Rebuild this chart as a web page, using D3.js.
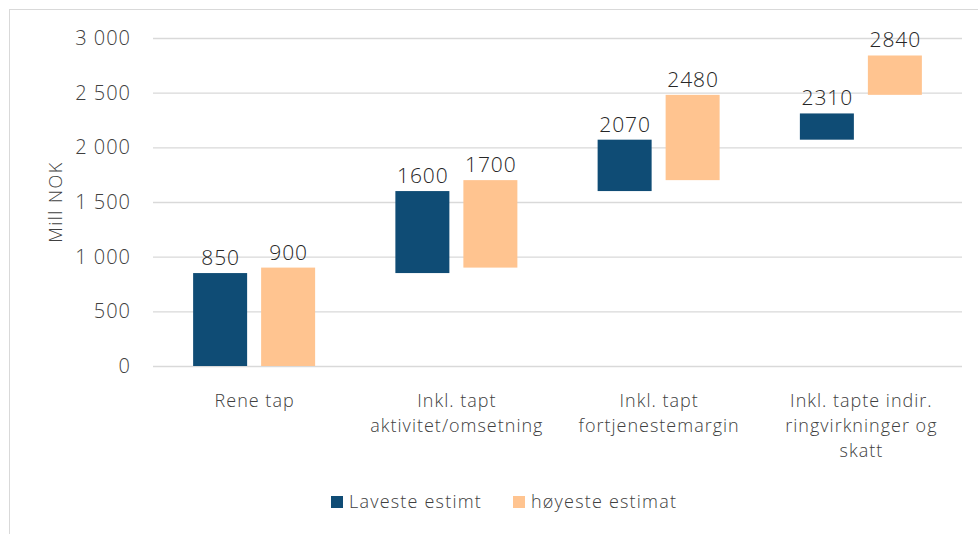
<!DOCTYPE html>
<html><head><meta charset="utf-8">
<script src="https://cdn.jsdelivr.net/npm/d3@7"></script>
<style>
html,body{margin:0;padding:0;background:#fff;}
text{font-family:"Open Sans",Lato,sans-serif;font-weight:300;}
</style></head>
<body>
<svg id="c" width="978" height="534"></svg>
<script>
const categories = [["Rene tap"],["Inkl. tapt","aktivitet/omsetning"],["Inkl. tapt","fortjenestemargin"],["Inkl. tapte indir.","ringvirkninger og","skatt"]];
const lowStart = [0, 850, 1600, 2070];
const lowEnd = [850, 1600, 2070, 2310];
const highStart = [0, 900, 1700, 2480];
const highEnd = [900, 1700, 2480, 2840];
const seriesNames = ["Laveste estimt", "høyeste estimat"];
const yTicks = [0, 500, 1000, 1500, 2000, 2500, 3000];
const colors = ["#0f4c75", "#ffc490"];

const svg = d3.select("#c");
// outer frame
svg.append("rect").attr("x",9.5).attr("y",9.5).attr("width",980).attr("height",540)
  .attr("fill","none").attr("stroke","#d9d9d9").attr("stroke-width",1);

const m = {left:153, right:962, top:38, bottom:366};
const x = d3.scaleBand().domain(d3.range(categories.length)).range([m.left, m.right]);
const y = d3.scaleLinear().domain([0,3000]).range([m.bottom, m.top]);

const fmt = v => d3.format(",")(v).replace(/,/g, " ");

const yAxis = d3.axisLeft(y).tickValues(yTicks).tickSize(-(m.right-m.left)).tickPadding(22).tickFormat(fmt);
const ga = svg.append("g").attr("transform",`translate(${m.left},0)`).call(yAxis);
ga.select(".domain").remove();
ga.selectAll(".tick line").attr("stroke","#d9d9d9").attr("stroke-width",1.3);
ga.selectAll(".tick text").attr("fill","#404040").attr("font-size",20).attr("letter-spacing",1)
  .attr("font-family","'Open Sans'").attr("font-weight",300);

svg.append("text").attr("transform",`translate(62,202) rotate(-90)`)
  .attr("text-anchor","middle").attr("font-size",18).attr("letter-spacing",1.5).attr("fill","#404040").text("Mill NOK");

const bw = 54, gap = 14;
const series = [{s:lowStart,e:lowEnd,off:-(gap/2+bw)},{s:highStart,e:highEnd,off:gap/2}];
series.forEach((ser,si)=>{
  const g = svg.append("g");
  categories.forEach((c,i)=>{
    const cx = x(i)+x.bandwidth()/2;
    g.append("rect").attr("x",cx+ser.off).attr("width",bw)
      .attr("y",y(ser.e[i])).attr("height",y(ser.s[i])-y(ser.e[i]))
      .attr("fill",colors[si]);
    g.append("text").attr("x",cx+ser.off+bw/2+0.5).attr("y",y(ser.e[i])-8)
      .attr("text-anchor","middle").attr("font-size",21).attr("letter-spacing",1).attr("fill","#262626").text(ser.e[i]);
  });
});

categories.forEach((lines,i)=>{
  const cx = x(i)+x.bandwidth()/2;
  const t = svg.append("text").attr("text-anchor","middle").attr("font-size",18).attr("letter-spacing",1).attr("fill","#404040");
  lines.forEach((l,j)=>{
    t.append("tspan").attr("x",cx+0.5).attr("y",407+j*25).text(l);
  });
});

// legend
const legX = [331, 513];
seriesNames.forEach((n,i)=>{
  svg.append("rect").attr("x",legX[i]).attr("y",496).attr("width",12).attr("height",12).attr("fill",colors[i]);
  svg.append("text").attr("x",legX[i]+18).attr("y",508).attr("font-size",18).attr("letter-spacing",1.2).attr("fill","#404040").text(n);
});
</script>
</body></html>
